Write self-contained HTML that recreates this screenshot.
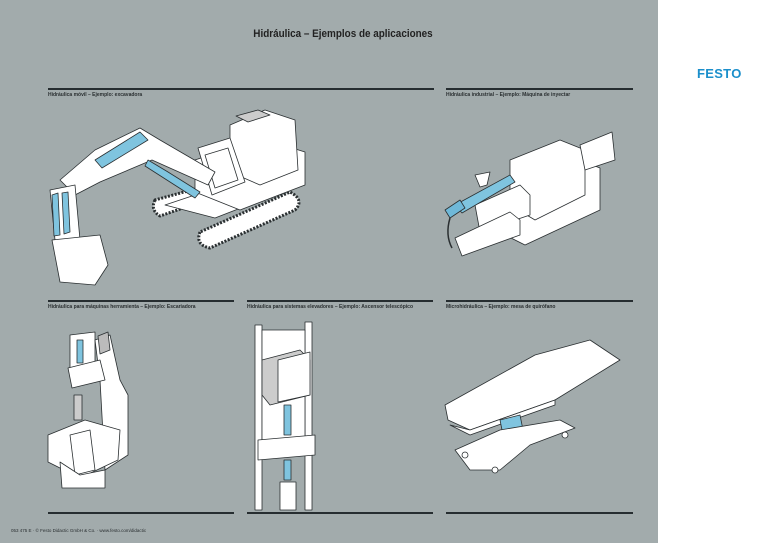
<!DOCTYPE html>
<html><head><meta charset="utf-8"><style>
html,body{margin:0;padding:0}
body{width:768px;height:543px;position:relative;overflow:hidden;background:#fff;font-family:"Liberation Sans",sans-serif}
#g{position:absolute;left:0;top:0;width:658px;height:543px;background:#a2abac}
.t{position:absolute;font-weight:bold;color:#222}
.l{position:absolute;height:1.5px;background:#262d30}
.lab{position:absolute;font-size:5px;font-weight:bold;color:#2a2f31;white-space:nowrap}
</style></head><body>
<div id="g"></div>
<div class="t" style="left:0;width:686px;text-align:center;top:28px;font-size:11px;transform:scaleX(0.9)">Hidráulica – Ejemplos de aplicaciones</div>
<div style="position:absolute;left:697px;top:66px;font-size:13px;font-weight:900;color:#1b8fcb;letter-spacing:0.3px">FESTO</div>

<div class="l" style="left:48px;top:88px;width:386px"></div>
<div class="l" style="left:446px;top:88px;width:187px"></div>
<div class="l" style="left:48px;top:300px;width:186px"></div>
<div class="l" style="left:247px;top:300px;width:186px"></div>
<div class="l" style="left:446px;top:300px;width:187px"></div>
<div class="l" style="left:48px;top:512px;width:186px"></div>
<div class="l" style="left:247px;top:512px;width:186px"></div>
<div class="l" style="left:446px;top:512px;width:187px"></div>

<div class="lab" style="left:48px;top:92px">Hidráulica móvil – Ejemplo: excavadora</div>
<div class="lab" style="left:446px;top:92px">Hidráulica industrial – Ejemplo: Máquina de inyectar</div>
<div class="lab" style="left:48px;top:304px">Hidráulica para máquinas herramienta – Ejemplo: Escariadora</div>
<div class="lab" style="left:247px;top:304px">Hidráulica para sistemas elevadores – Ejemplo: Ascensor telescópico</div>
<div class="lab" style="left:446px;top:304px">Microhidráulica – Ejemplo: mesa de quirófano</div>
<div class="lab" style="left:11px;top:528px;font-weight:normal;font-size:4.5px">053 475 E · © Festo Didactic GmbH &amp; Co. · www.festo.com/didactic</div>

<svg width="768" height="543" style="position:absolute;left:0;top:0" fill="#fff" stroke="#2a2f31" stroke-width="0.8" stroke-linejoin="round">
<!-- excavator -->
<g>
<path d="M155 200 Q150 210 160 216 L235 190 Q245 183 235 178 Z" stroke-width="3" stroke-dasharray="2 1.5"/>
<path d="M200 232 Q195 245 210 248 L295 210 Q305 200 290 192 Z" stroke-width="3" stroke-dasharray="2 1.5"/>
<path d="M165 205 L255 175 L305 183 L215 218 Z"/>
<path d="M195 160 L260 138 L305 152 L305 185 L240 210 L195 192 Z"/>
<path d="M230 125 L265 110 L295 120 L298 170 L260 185 L230 172 Z"/>
<path d="M236 116 L258 110 L270 115 L248 122 Z" fill="#ccc"/>
<path d="M198 148 L230 138 L245 182 L212 195 Z"/>
<path d="M205 155 L228 148 L238 180 L215 188 Z" fill="none"/>
<path d="M60 180 L95 150 L140 128 L160 140 L215 172 L208 185 L152 160 L100 182 L75 195 Z"/>
<path d="M50 190 L75 185 L80 240 L65 245 L55 240 Z"/>
<path d="M52 240 L100 235 L108 265 L95 285 L60 282 Z"/>
<path d="M95 160 L140 132 L148 140 L102 168 Z" fill="#7fc4df"/>
<path d="M148 160 L168 172 L200 192 L195 198 L145 166 Z" fill="#7fc4df"/>
<path d="M52 195 L58 193 L60 235 L54 236 Z" fill="#7fc4df"/>
<path d="M62 193 L68 192 L70 232 L64 234 Z" fill="#7fc4df"/>
</g>
<!-- injection -->
<g>
<path d="M520 185 L580 160 L600 168 L600 210 L525 245 L505 235 Z"/>
<path d="M510 160 L560 140 L585 150 L585 195 L535 220 L510 205 Z"/>
<path d="M580 145 L612 132 L615 160 L585 170 Z"/>
<path d="M475 205 L520 185 L530 195 L530 215 L480 232 Z"/>
<path d="M455 238 L510 212 L520 220 L520 235 L462 256 Z"/>
<path d="M475 175 L490 172 L487 185 L480 187 Z"/>
<path d="M455 205 L510 175 L515 182 L462 213 Z" fill="#7fc4df"/>
<path d="M445 210 L460 200 L465 208 L450 218 Z" fill="#6fb8d8"/>
<path d="M450 218 Q445 235 452 248" fill="none" stroke-width="1.5"/>
</g>
<!-- milling -->
<g>
<path d="M70 335 L95 332 L95 370 L70 375 Z"/>
<path d="M95 340 L110 335 L120 380 L128 395 L128 455 L105 470 L100 380 Z"/>
<path d="M68 368 L100 360 L105 380 L72 388 Z"/>
<path d="M74 395 L82 395 L82 420 L74 420 Z" fill="#ccc"/>
<path d="M48 435 L85 420 L120 430 L118 460 L80 478 L48 462 Z"/>
<path d="M70 435 L90 430 L95 470 L75 475 Z"/>
<path d="M60 462 L80 475 L105 470 L105 488 L62 488 Z"/>
<path d="M98 336 L108 332 L110 350 L100 354 Z" fill="#bbb"/>
<path d="M77 340 L83 340 L83 363 L77 363 Z" fill="#7fc4df"/>
</g>
<!-- elevator -->
<g>
<path d="M255 325 L262 325 L262 510 L255 510 Z"/>
<path d="M305 322 L312 322 L312 510 L305 510 Z"/>
<path d="M262 330 L305 330 L305 440 L262 445 Z"/>
<path d="M262 360 L300 350 L310 360 L310 395 L270 405 L262 395 Z" fill="#ccc"/>
<path d="M278 360 L310 352 L310 395 L278 402 Z"/>
<path d="M258 440 L315 435 L315 455 L258 460 Z"/>
<path d="M284 405 L291 405 L291 435 L284 435 Z" fill="#7fc4df"/>
<path d="M284 460 L291 460 L291 480 L284 480 Z" fill="#7fc4df"/>
<path d="M280 482 L296 482 L296 510 L280 510 Z"/>
</g>
<!-- op table -->
<g>
<path d="M445 405 L535 355 L590 340 L620 360 L555 400 L470 430 L448 420 Z"/>
<path d="M450 425 L470 430 L555 400 L555 405 L470 435 Z"/>
<path d="M500 420 L520 415 L525 440 L505 445 Z" fill="#7fc4df"/>
<path d="M455 450 L500 430 L560 420 L575 428 L530 445 L500 470 L470 470 Z"/>
<circle cx="465" cy="455" r="3"/><circle cx="495" cy="470" r="3"/><circle cx="565" cy="435" r="3"/>
</g>
</svg>
</body></html>
